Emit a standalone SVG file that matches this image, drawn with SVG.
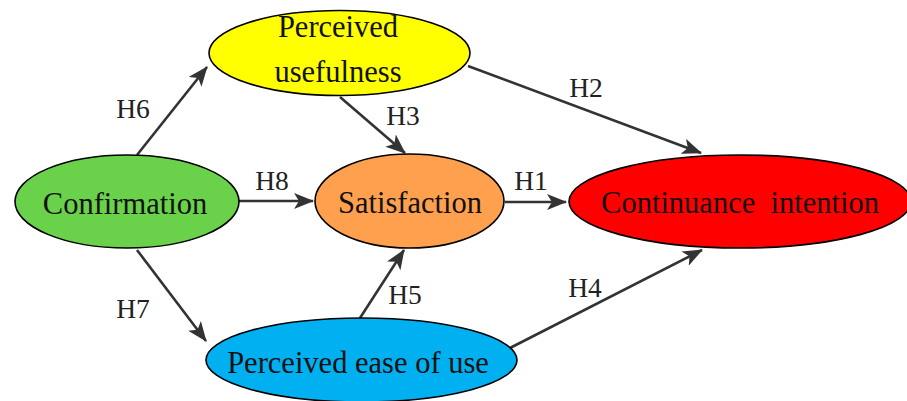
<svg xmlns="http://www.w3.org/2000/svg" width="907" height="401" viewBox="0 0 907 401">
<style>
.node ellipse{stroke:#000;stroke-width:1.6}
.t{font-family:"Liberation Serif","Times New Roman",serif;font-size:30.5px;fill:#111;text-anchor:middle}
.lbl{font-family:"Liberation Serif","Times New Roman",serif;font-size:27.5px;fill:#222;text-anchor:middle}
.edge{stroke:#333;stroke-width:2.6;fill:none;marker-end:url(#ah)}
</style>
<defs>
<marker id="ah" markerUnits="userSpaceOnUse" markerWidth="20" markerHeight="16" viewBox="0 0 20 16" refX="19" refY="8" orient="auto">
<path d="M0,0 L20,8 L0,16 L5,8 Z" fill="#333"/>
</marker>
</defs>
<rect width="907" height="401" fill="#fff"/>
<g id="connectors">
<line class="edge" x1="137" y1="155" x2="207" y2="67"/>
<line class="edge" x1="239" y1="201" x2="313" y2="201"/>
<line class="edge" x1="137" y1="250" x2="206" y2="341"/>
<line class="edge" x1="340" y1="97" x2="405" y2="153"/>
<line class="edge" x1="505" y1="202" x2="566" y2="202"/>
<line class="edge" x1="360" y1="318" x2="404" y2="250"/>
<line class="edge" x1="468" y1="66" x2="701" y2="153"/>
<line class="edge" x1="510" y1="348" x2="702" y2="250"/>
<text class="lbl" x="133" y="118">H6</text>
<text class="lbl" x="272" y="190">H8</text>
<text class="lbl" x="133" y="318">H7</text>
<text class="lbl" x="403" y="125">H3</text>
<text class="lbl" x="531" y="190">H1</text>
<text class="lbl" x="405" y="304">H5</text>
<text class="lbl" x="586" y="97">H2</text>
<text class="lbl" x="585" y="297">H4</text>
</g>
<g id="perceived-usefulness" class="node">
<ellipse cx="339.5" cy="53" rx="130.5" ry="42.5" fill="#FFFF00"/>
<text class="t" x="338" y="37">Perceived</text>
<text class="t" x="338" y="82">usefulness</text>
</g>
<g id="confirmation" class="node">
<ellipse cx="127" cy="201.5" rx="112" ry="46.5" fill="#6AD14A"/>
<text class="t" x="125" y="214">Confirmation</text>
</g>
<g id="satisfaction" class="node">
<ellipse cx="409.5" cy="201" rx="94.5" ry="47" fill="#FFA04F"/>
<text class="t" x="410" y="213">Satisfaction</text>
</g>
<g id="continuance-intention" class="node">
<ellipse cx="740" cy="201.5" rx="171" ry="46.5" fill="#FF0000"/>
<text class="t" x="740" y="213" xml:space="preserve">Continuance  intention</text>
</g>
<g id="perceived-ease-of-use" class="node">
<ellipse cx="361.5" cy="360" rx="155.5" ry="42" fill="#00B0F0"/>
<text class="t" x="358" y="373">Perceived ease of use</text>
</g>
</svg>
